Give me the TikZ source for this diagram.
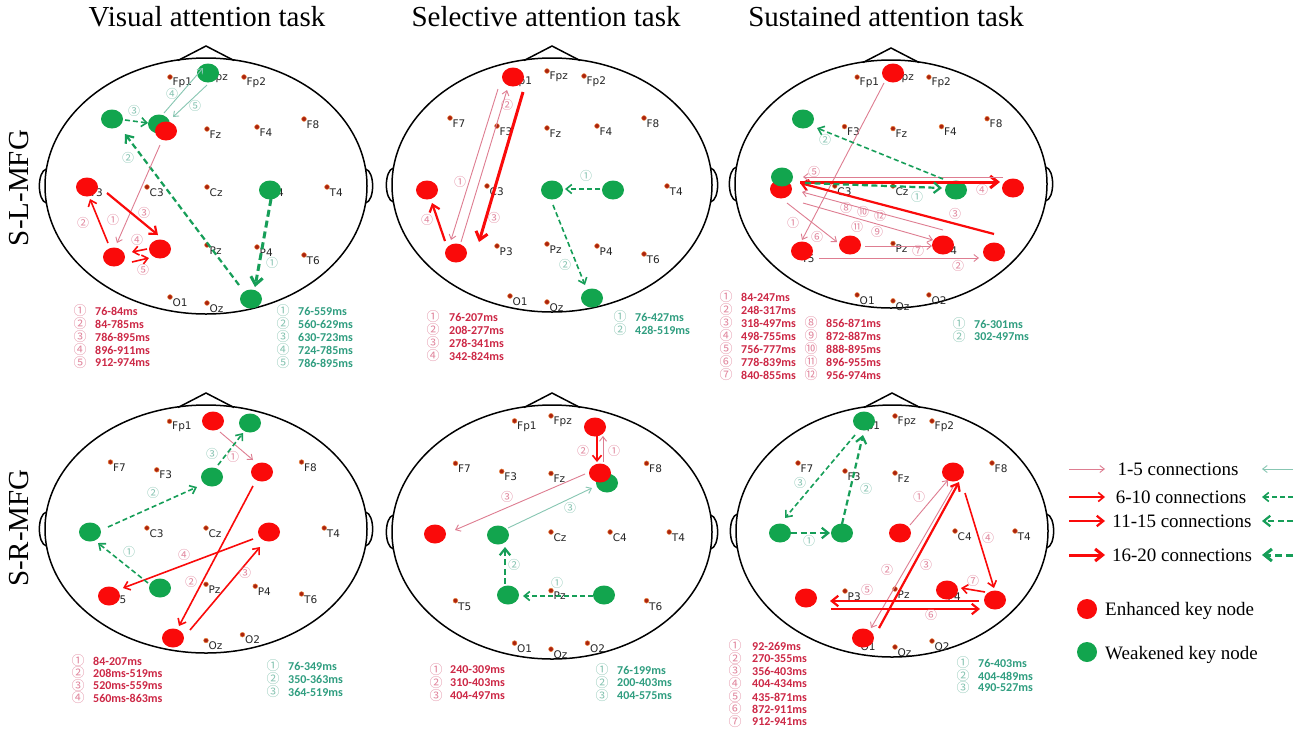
\documentclass[tikz,border=0pt]{standalone}
\usepackage{fontspec}
\setmainfont{Liberation Serif}
\newfontfamily\labfont{DejaVu Sans}
\newfontfamily\numfont{Noto Sans CJK SC}
\newfontfamily\lstfont{Carlito}
\usetikzlibrary{shapes.geometric,arrows.meta,calc}

\definecolor{kred}{RGB}{250,10,10}
\definecolor{kgreen}{RGB}{18,165,78}
\definecolor{pinkline}{RGB}{222,125,145}
\definecolor{tealline}{RGB}{135,198,178}
\definecolor{dgreen}{RGB}{22,158,88}
\definecolor{pinklab}{RGB}{225,135,158}
\definecolor{teallab}{RGB}{135,196,178}
\definecolor{listred}{RGB}{205,40,70}
\definecolor{listgreen}{RGB}{48,158,128}
\definecolor{eldotc}{RGB}{170,35,15}
\definecolor{elrim}{RGB}{235,130,60}

\newcommand\headshape[4]{%
 \draw[headline] ({#1-28},{#2-#4+2.5}) -- (#1,{#2-#4-12}) -- ({#1+28},{#2-#4+2.5});
 \draw[headline] ({#1-#3+1.5},{#2-17}) .. controls ({#1-#3-8},{#2-15}) and ({#1-#3-8},{#2+15}) .. ({#1-#3+1.5},{#2+17});
 \draw[headline] ({#1+#3-1.5},{#2-17}) .. controls ({#1+#3+8},{#2-15}) and ({#1+#3+8},{#2+15}) .. ({#1+#3-1.5},{#2+17});
 \draw[headline] (#1,#2) ellipse [x radius=#3, y radius=#4];}
\newcommand\elec[4]{\fill[eldot] (#2,#3) circle[radius=2.4];
 \node[ellab] (#1) at ({#2+2.5},{#3+5.5}) {#4};}
\newcommand\conn[5]{\draw[#1] ([shift={(#3)}]#2.center) -- ([shift={(#5)}]#4.center);}
\newcommand\labR[3]{\node[nlR] (#1) at (#2) {#3};}
\newcommand\labG[3]{\node[nlG] (#1) at (#2) {#3};}
\newcommand\rowR[6]{\node[lcR] (#1c) at (#2,#4) {#5}; \node[ltR] (#1) at (#3,#4) {#6};}
\newcommand\rowG[6]{\node[lcG] (#1c) at (#2,#4) {#5}; \node[ltG] (#1) at (#3,#4) {#6};}

\begin{document}
\begin{tikzpicture}[x=1pt,y=-1pt,
 headline/.style={draw=black,line width=1.5pt},
 eldot/.style={fill=eldotc,draw=elrim,line width=0.5pt},
 ellab/.style={font=\labfont\fontsize{10.5}{12}\selectfont,text=black!85,inner sep=0pt,anchor=west},
 enh/.style={ellipse,fill=kred,minimum width=22pt,minimum height=19pt,inner sep=0pt},
 wkn/.style={ellipse,fill=kgreen,minimum width=22pt,minimum height=19pt,inner sep=0pt},
 thinR/.style={draw=pinkline,line width=0.9pt,-{Straight Barb[length=4.5pt,width=7pt]}},
 redA/.style={draw=kred,line width=1.6pt,-{Straight Barb[length=5.5pt,width=9pt]}},
 redB/.style={draw=kred,line width=2.2pt,-{Straight Barb[length=6.5pt,width=10.5pt]}},
 redC/.style={draw=kred,line width=3pt,-{Straight Barb[length=7.5pt,width=12pt]}},
 thinG/.style={draw=tealline,line width=0.9pt,-{Straight Barb[length=4.5pt,width=7pt]}},
 dashA/.style={draw=dgreen,line width=1.6pt,dash pattern=on 5pt off 3pt,-{Straight Barb[length=5.5pt,width=9pt]}},
 dashB/.style={draw=dgreen,line width=2.2pt,dash pattern=on 6pt off 3.5pt,-{Straight Barb[length=6.5pt,width=10.5pt]}},
 dashC/.style={draw=dgreen,line width=3pt,dash pattern=on 7pt off 4pt,-{Straight Barb[length=7.5pt,width=12pt]}},
 nlR/.style={font=\numfont\fontsize{12}{12}\selectfont,text=pinklab,inner sep=0pt},
 nlG/.style={font=\numfont\fontsize{12}{12}\selectfont,text=teallab,inner sep=0pt},
 lcR/.style={font=\numfont\fontsize{13}{13}\selectfont,text=pinklab,inner sep=0pt},
 lcG/.style={font=\numfont\fontsize{13}{13}\selectfont,text=teallab,inner sep=0pt},
 ltR/.style={font=\lstfont\bfseries\fontsize{12}{13}\selectfont,text=listred,inner sep=0pt,anchor=west},
 ltG/.style={font=\lstfont\bfseries\fontsize{12}{13}\selectfont,text=listgreen,inner sep=0pt,anchor=west},
 title/.style={font=\fontsize{29}{32}\selectfont,anchor=base,inner sep=0pt},
 legtext/.style={font=\fontsize{19}{21}\selectfont,inner sep=0pt}
]
\fill[white] (0,0) rectangle (1300,732);
\useasboundingbox (0,0) rectangle (1300,732);

% titles
\node[title] (t1) at (207,26) {Visual attention task};
\node[title] (t2) at (546,26) {Selective attention task};
\node[title] (t3) at (886,26) {Sustained attention task};
\node[title,anchor=center,rotate=90] (r1) at (19,188) {S-L-MFG};
\node[title,anchor=center,rotate=90] (r2) at (19,528) {S-R-MFG};

% heads
\headshape{206}{186}{161}{128}
\headshape{552}{185}{160}{127}
\headshape{891}{184}{156}{124}
\headshape{206}{529}{161}{124}
\headshape{552}{532}{160}{127}
\headshape{892}{531}{156}{126}

% ---------- electrodes ----------
\begin{scope}[shift={(207,187)}]
\elec{p1eFpa}{-37}{-110}{Fp1}\elec{p1eFpz}{0}{-115}{Fpz}\elec{p1eFpb}{37}{-110}{Fp2}
\elec{p1eFz}{0}{-58}{Fz}\elec{p1eFd}{50}{-60}{F4}\elec{p1eFh}{97}{-68}{F8}
\elec{p1eTc}{-120}{0}{T3}\elec{p1eCc}{-60}{0}{C3}\elec{p1eCz}{0}{0}{Cz}\elec{p1eCd}{60}{0}{C4}\elec{p1eTd}{120}{0}{T4}
\elec{p1ePz}{0}{58}{Pz}\elec{p1ePd}{50}{60}{P4}\elec{p1eTf}{97}{68}{T6}
\elec{p1eOa}{-37}{110}{O1}\elec{p1eOz}{0}{116}{Oz}
\end{scope}
\begin{scope}[shift={(547,186)}]
\elec{p2eFpa}{-37}{-110}{Fp1}\elec{p2eFpz}{0}{-115}{Fpz}\elec{p2eFpb}{37}{-110}{Fp2}
\elec{p2eFg}{-97}{-68}{F7}\elec{p2eFc}{-50}{-60}{F3}\elec{p2eFz}{0}{-58}{Fz}\elec{p2eFd}{50}{-60}{F4}\elec{p2eFh}{97}{-68}{F8}
\elec{p2eCc}{-60}{0}{C3}\elec{p2eTd}{120}{0}{T4}
\elec{p2ePc}{-50}{60}{P3}\elec{p2ePz}{0}{58}{Pz}\elec{p2ePd}{50}{60}{P4}\elec{p2eTf}{97}{68}{T6}
\elec{p2eOa}{-37}{110}{O1}\elec{p2eOz}{0}{116}{Oz}
\end{scope}
\begin{scope}[shift={(893,186)},xscale=0.97,yscale=0.99]
\elec{p3eFpa}{-37}{-110}{Fp1}\elec{p3eFpz}{0}{-115}{Fpz}\elec{p3eFpb}{37}{-110}{Fp2}
\elec{p3eFc}{-50}{-60}{F3}\elec{p3eFz}{0}{-58}{Fz}\elec{p3eFd}{50}{-60}{F4}\elec{p3eFh}{97}{-68}{F8}
\elec{p3eCc}{-60}{0}{C3}\elec{p3eCz}{0}{0}{Cz}
\elec{p3eTe}{-97}{68}{T5}\elec{p3ePz}{0}{58}{Pz}\elec{p3ePd}{50}{60}{P4}
\elec{p3eOa}{-37}{110}{O1}\elec{p3eOz}{0}{116}{Oz}\elec{p3eOb}{37}{110}{O2}
\end{scope}
\begin{scope}[shift={(206,528)},xscale=0.985,yscale=0.97]
\elec{p4eFpa}{-37}{-110}{Fp1}
\elec{p4eFg}{-97}{-68}{F7}\elec{p4eFc}{-50}{-60}{F3}\elec{p4eFh}{97}{-68}{F8}
\elec{p4eCc}{-60}{0}{C3}\elec{p4eCz}{0}{0}{Cz}\elec{p4eTd}{120}{0}{T4}
\elec{p4eTe}{-97}{68}{T5}\elec{p4ePz}{0}{58}{Pz}\elec{p4ePd}{50}{60}{P4}\elec{p4eTf}{97}{68}{T6}
\elec{p4eOz}{0}{116}{Oz}\elec{p4eOb}{37}{110}{O2}
\end{scope}
\begin{scope}[shift={(551,532)},xscale=0.985,yscale=1.01]
\elec{p5eFpa}{-37}{-110}{Fp1}\elec{p5eFpz}{0}{-115}{Fpz}
\elec{p5eFg}{-97}{-68}{F7}\elec{p5eFc}{-50}{-60}{F3}\elec{p5eFz}{0}{-58}{Fz}\elec{p5eFh}{97}{-68}{F8}
\elec{p5eCz}{0}{0}{Cz}\elec{p5eCd}{60}{0}{C4}\elec{p5eTd}{120}{0}{T4}
\elec{p5eTe}{-97}{68}{T5}\elec{p5ePz}{0}{58}{Pz}\elec{p5eTf}{97}{68}{T6}
\elec{p5eOa}{-37}{110}{O1}\elec{p5eOz}{0}{116}{Oz}\elec{p5eOb}{37}{110}{O2}
\end{scope}
\begin{scope}[shift={(895,531)}]
\elec{p6eFpa}{-37}{-110}{Fp1}\elec{p6eFpz}{0}{-115}{Fpz}\elec{p6eFpb}{37}{-110}{Fp2}
\elec{p6eFg}{-97}{-68}{F7}\elec{p6eFc}{-50}{-60}{F3}\elec{p6eFz}{0}{-58}{Fz}\elec{p6eFh}{97}{-68}{F8}
\elec{p6eCd}{60}{0}{C4}\elec{p6eTd}{120}{0}{T4}
\elec{p6ePc}{-50}{60}{P3}\elec{p6ePz}{0}{58}{Pz}\elec{p6ePd}{50}{60}{P4}
\elec{p6eOa}{-37}{110}{O1}\elec{p6eOz}{0}{116}{Oz}\elec{p6eOb}{37}{110}{O2}
\end{scope}

% ---------- key nodes ----------
% panel 1
\node[wkn] (p1Fpz) at (208,73) {};
\node[wkn] (p1F7) at (112,119) {};
\node[wkn] (p1F3g) at (159,124) {};
\node[enh] (p1F3r) at (166,131) {};
\node[enh] (p1T3) at (87,187) {};
\node[wkn] (p1C4) at (270,190) {};
\node[enh] (p1T5) at (114,257) {};
\node[enh] (p1P3) at (160,249) {};
\node[wkn] (p1O2) at (251,299) {};
% panel 2
\node[enh] (p2Fp1) at (513,77) {};
\node[enh] (p2T3) at (427,190) {};
\node[enh] (p2T5) at (456,253) {};
\node[wkn] (p2Cz) at (552,190) {};
\node[wkn] (p2C4) at (613,190) {};
\node[wkn] (p2O2) at (592,298) {};
% panel 3
\node[enh] (p3Fpz) at (893,73) {};
\node[wkn] (p3F7) at (803,119) {};
\node[enh] (p3T3r) at (781,189) {};
\node[wkn] (p3T3g) at (782,177) {};
\node[wkn] (p3C4) at (956,190) {};
\node[enh] (p3T4) at (1013,188) {};
\node[enh] (p3T5) at (802,251) {};
\node[enh] (p3P3) at (850,245) {};
\node[enh] (p3P4) at (943,245) {};
\node[enh] (p3T6) at (994,252) {};
% panel 4
\node[enh] (p4Fpz) at (213,421) {};
\node[wkn] (p4Fp2) at (250,423) {};
\node[wkn] (p4Fz) at (212,477) {};
\node[enh] (p4F4) at (262,472) {};
\node[wkn] (p4T3) at (90,532) {};
\node[enh] (p4C4) at (269,532) {};
\node[enh] (p4T5) at (109,596) {};
\node[wkn] (p4P3) at (160,588) {};
\node[enh] (p4O1) at (173,638) {};
% panel 5
\node[enh] (p5Fp2) at (595,427) {};
\node[wkn] (p5F4g) at (607,483) {};
\node[enh] (p5F4r) at (600,473) {};
\node[enh] (p5T3) at (435,534) {};
\node[wkn] (p5C3) at (498,535) {};
\node[wkn] (p5P3) at (508,595) {};
\node[wkn] (p5P4) at (604,595) {};
% panel 6
\node[wkn] (p6Fp1) at (864,421) {};
\node[enh] (p6F4) at (953,472) {};
\node[wkn] (p6T3) at (780,533) {};
\node[wkn] (p6C3) at (842,533) {};
\node[enh] (p6Cz) at (900,533) {};
\node[enh] (p6T5) at (806,598) {};
\node[enh] (p6P4) at (947,590) {};
\node[enh] (p6T6) at (995,600) {};
\node[enh] (p6O1) at (863,638) {};

% ---------- connectors ----------
% panel 1
\conn{thinG}{p1F3g}{5,-11}{p1Fpz}{-5,-5}
\conn{thinG}{p1Fpz}{-1,12}{p1F3g}{14,-7}
\conn{dashA}{p1F7}{13,1}{p1F3g}{-11,-1}
\conn{dashB}{p1O2}{-12,-14}{p1F7}{13,15}
\conn{dashC}{p1C4}{1,9}{p1O2}{4,-12}
\conn{thinR}{p1F3r}{-6,14}{p1T5}{3,-14}
\conn{redA}{p1T5}{-6,-14}{p1T3}{3,12}
\conn{redB}{p1T3}{20,6}{p1P3}{-2,-14}
\conn{redA}{p1P3}{-13,0}{p1T5}{18,-5}
\conn{redA}{p1T5}{18,5}{p1P3}{-11,9}
% panel 2
\conn{thinR}{p2Fp1}{-15,12}{p2T5}{-5,-13}
\conn{thinR}{p2T5}{5,-11}{p2Fp1}{-6,13}
\conn{redC}{p2Fp1}{10,15}{p2T5}{23,-11}
\conn{redB}{p2T5}{-11,-12}{p2T3}{5,13}
\conn{dashA}{p2C4}{-13,-1}{p2Cz}{13,-1}
\conn{dashA}{p2Cz}{1,15}{p2O2}{-7,-13}
% panel 3
\conn{thinR}{p3Fpz}{-9,10}{p3T5}{0,-11}
\conn{thinR}{p3T3r}{6,14}{p3P3}{-13,-3}
\conn{thinR}{p3P3}{15,1}{p3P4}{-11,1}
\conn{thinR}{p3T5}{17,7}{p3T6}{-15,6}
\conn{redB}{p3T6}{0,-18}{p3T3r}{19,-6}
\conn{redC}{p3T3r}{19,-7}{p3T4}{-13,-6}
\conn{thinR}{p3T4}{-10,-11}{p3T3g}{21,0}
\conn{thinR}{p3P4}{0,-15}{p3T3r}{21,3}
\conn{thinR}{p3T3r}{22,14}{p3P4}{-10,-5}
\conn{dashB}{p3T3g}{23,6}{p3C4}{-14,-2}
\conn{dashA}{p3C4}{-13,-11}{p3F7}{14,9}
% panel 4
\conn{thinR}{p4Fpz}{7,11}{p4F4}{-9,-12}
\conn{redA}{p4F4}{-9,14}{p4O1}{6,-12}
\conn{redA}{p4O1}{17,-8}{p4C4}{-9,15}
\conn{redA}{p4C4}{-16,7}{p4T5}{14,-8}
\conn{dashA}{p4P3}{-12,-5}{p4T3}{8,11}
\conn{dashA}{p4T3}{18,-5}{p4Fz}{-15,10}
\conn{dashA}{p4Fz}{6,-12}{p4Fp2}{-7,10}
% panel 5
\conn{thinR}{p5F4r}{3,-11}{p5Fp2}{8,9}
\conn{redA}{p5Fp2}{2,9}{p5F4r}{-3,-11}
\conn{thinR}{p5F4r}{-15,1}{p5T3}{20,-4}
\conn{thinG}{p5C3}{10,-7}{p5F4g}{-15,5}
\conn{dashA}{p5P4}{-11,1}{p5P3}{15,1}
\conn{dashB}{p5P3}{-3,-11}{p5C3}{7,12}
% panel 6
\conn{thinR}{p6Cz}{10,-8}{p6F4}{-5,8}
\conn{thinR}{p6F4}{0,15}{p6O1}{8,-10}
\conn{redB}{p6O1}{16,-10}{p6F4}{6,10}
\conn{redA}{p6F4}{12,21}{p6T6}{-1,-12}
\conn{redA}{p6T6}{-10,-8}{p6P4}{14,-2}
\conn{redB}{p6T6}{-16,1}{p6T5}{24,3}
\conn{redB}{p6T5}{25,11}{p6T6}{-15,9}
\conn{dashB}{p6T3}{11,0}{p6C3}{-12,0}
\conn{dashB}{p6C3}{0,-9}{p6Fp1}{-1,14}
\conn{dashA}{p6Fp1}{-9,14}{p6T3}{5,-15}

% ---------- connector labels ----------
\labR{p1r1}{113,220}{①}\labR{p1r2}{83,223}{②}\labR{p1r3}{144,213}{③}\labR{p1r4}{137,240}{④}\labR{p1r5}{143,270}{⑤}
\labG{p1g4}{172,94}{④}\labG{p1g5}{195,106}{⑤}\labG{p1g3}{134,111}{③}\labG{p1g2}{128,158}{②}\labG{p1g1}{272,263}{①}
\labR{p2r1}{460,182}{①}\labR{p2r2}{507,105}{②}\labR{p2r3}{494,218}{③}\labR{p2r4}{427,220}{④}
\labG{p2g1}{586,176}{①}\labG{p2g2}{565,265}{②}
\labR{p3r6}{817,237}{⑥}\labR{p3r1}{793,223}{①}\labR{p3r7}{918,251}{⑦}\labR{p3r2}{958,266}{②}\labR{p3r3}{955,214}{③}
\labR{p3r4}{982,190}{④}\labR{p3r5}{814,172}{⑤}\labR{p3r8}{846,208}{⑧}\labR{p3r10}{863,212}{⑩}\labR{p3r12}{880,216}{⑫}
\labR{p3r11}{857,227}{⑪}\labR{p3r9}{877,232}{⑨}
\labG{p3g1}{917,197}{①}\labG{p3g2}{825,140}{②}
\labR{p4r1}{233,457}{①}\labR{p4r2}{191,582}{②}\labR{p4r3}{245,573}{③}\labR{p4r4}{184,555}{④}
\labG{p4g1}{129,552}{①}\labG{p4g2}{153,493}{②}\labG{p4g3}{212,454}{③}
\labR{p5r1}{614,451}{①}\labR{p5r2}{583,451}{②}\labR{p5r3}{507,497}{③}
\labG{p5g3}{570,508}{③}\labG{p5g1}{557,583}{①}\labG{p5g2}{514,565}{②}
\labR{p6r1}{919,497}{①}\labR{p6r2}{887,570}{②}\labR{p6r3}{926,565}{③}\labR{p6r4}{988,538}{④}
\labR{p6r7}{973,581}{⑦}\labR{p6r5}{867,590}{⑤}\labR{p6r6}{931,615}{⑥}
\labG{p6g1}{809,541}{①}\labG{p6g2}{866,489}{②}\labG{p6g3}{800,483}{③}

% ---------- time lists ----------
\rowR{l1r1}{80}{95}{311}{①}{76-84ms}
\rowR{l1r2}{80}{95}{324}{②}{84-785ms}
\rowR{l1r3}{80}{95}{337}{③}{786-895ms}
\rowR{l1r4}{80}{95}{350}{④}{896-911ms}
\rowR{l1r5}{80}{95}{363}{⑤}{912-974ms}
\rowG{l1g1}{283}{298}{311}{①}{76-559ms}
\rowG{l1g2}{283}{298}{324}{②}{560-629ms}
\rowG{l1g3}{283}{298}{337}{③}{630-723ms}
\rowG{l1g4}{283}{298}{350}{④}{724-785ms}
\rowG{l1g5}{283}{298}{363}{⑤}{786-895ms}

\rowR{l2r1}{433}{449}{317}{①}{76-207ms}
\rowR{l2r2}{433}{449}{330}{②}{208-277ms}
\rowR{l2r3}{433}{449}{343}{③}{278-341ms}
\rowR{l2r4}{433}{449}{356}{④}{342-824ms}
\rowG{l2g1}{620}{635}{317}{①}{76-427ms}
\rowG{l2g2}{620}{635}{330}{②}{428-519ms}

\rowR{l3r1}{726}{741}{297}{①}{84-247ms}
\rowR{l3r2}{726}{741}{310}{②}{248-317ms}
\rowR{l3r3}{726}{741}{323}{③}{318-497ms}
\rowR{l3r4}{726}{741}{336}{④}{498-755ms}
\rowR{l3r5}{726}{741}{349}{⑤}{756-777ms}
\rowR{l3r6}{726}{741}{362}{⑥}{778-839ms}
\rowR{l3r7}{726}{741}{375}{⑦}{840-855ms}
\rowR{l3r8}{811}{826}{323}{⑧}{856-871ms}
\rowR{l3r9}{811}{826}{336}{⑨}{872-887ms}
\rowR{l3r10}{811}{826}{349}{⑩}{888-895ms}
\rowR{l3r11}{811}{826}{362}{⑪}{896-955ms}
\rowR{l3r12}{811}{826}{375}{⑫}{956-974ms}
\rowG{l3g1}{959}{974}{324}{①}{76-301ms}
\rowG{l3g2}{959}{974}{337}{②}{302-497ms}

\rowR{l4r1}{78}{93}{661}{①}{84-207ms}
\rowR{l4r2}{78}{93}{673}{②}{208ms-519ms}
\rowR{l4r3}{78}{93}{686}{③}{520ms-559ms}
\rowR{l4r4}{78}{93}{698}{④}{560ms-863ms}
\rowG{l4g1}{273}{288}{666}{①}{76-349ms}
\rowG{l4g2}{273}{288}{679}{②}{350-363ms}
\rowG{l4g3}{273}{288}{692}{③}{364-519ms}

\rowR{l5r1}{436}{450}{670}{①}{240-309ms}
\rowR{l5r2}{436}{450}{683}{②}{310-403ms}
\rowR{l5r3}{436}{450}{696}{③}{404-497ms}
\rowG{l5g1}{602}{617}{670}{①}{76-199ms}
\rowG{l5g2}{602}{617}{683}{②}{200-403ms}
\rowG{l5g3}{602}{617}{696}{③}{404-575ms}

\rowR{l6r1}{735}{752}{646}{①}{92-269ms}
\rowR{l6r2}{735}{752}{659}{②}{270-355ms}
\rowR{l6r3}{735}{752}{671}{③}{356-403ms}
\rowR{l6r4}{735}{752}{684}{④}{404-434ms}
\rowR{l6r5}{735}{752}{697}{⑤}{435-871ms}
\rowR{l6r6}{735}{752}{709}{⑥}{872-911ms}
\rowR{l6r7}{735}{752}{722}{⑦}{912-941ms}
\rowG{l6g1}{963}{978}{663}{①}{76-403ms}
\rowG{l6g2}{963}{978}{676}{②}{404-489ms}
\rowG{l6g3}{963}{978}{688}{③}{490-527ms}

% ---------- legend ----------
\coordinate (la1) at (1069,469); \coordinate (lb1) at (1105,469);
\coordinate (la2) at (1069,497); \coordinate (lb2) at (1105,497);
\coordinate (la3) at (1069,521); \coordinate (lb3) at (1105,521);
\coordinate (la4) at (1069,555); \coordinate (lb4) at (1105,555);
\coordinate (ga1) at (1293,469); \coordinate (gb1) at (1262,469);
\coordinate (ga2) at (1293,497); \coordinate (gb2) at (1262,497);
\coordinate (ga3) at (1293,521); \coordinate (gb3) at (1262,521);
\coordinate (ga4) at (1293,555); \coordinate (gb4) at (1262,555);
\draw[thinR] (la1) -- (lb1);
\draw[redA] (la2) -- (lb2);
\draw[redB] (la3) -- (lb3);
\draw[redC] (la4) -- (lb4);
\draw[thinG] (ga1) -- (gb1);
\draw[dashA] (ga2) -- (gb2);
\draw[dashB] (ga3) -- (gb3);
\draw[dashC] (ga4) -- (gb4);
\node[legtext,anchor=base] (lt1) at (1178,475) {1-5 connections};
\node[legtext,anchor=base] (lt2) at (1181,503) {6-10 connections};
\node[legtext,anchor=base] (lt3) at (1182,527) {11-15 connections};
\node[legtext,anchor=base] (lt4) at (1182,561) {16-20 connections};
\node[enh,minimum width=20pt,minimum height=20pt] (lenh) at (1087,609) {};
\node[wkn,minimum width=20pt,minimum height=20pt] (lwkn) at (1087,652) {};
\node[legtext,anchor=base west] (lt5) at (1105,615) {Enhanced key node};
\node[legtext,anchor=base west] (lt6) at (1105,659) {Weakened key node};
\end{tikzpicture}
\end{document}
